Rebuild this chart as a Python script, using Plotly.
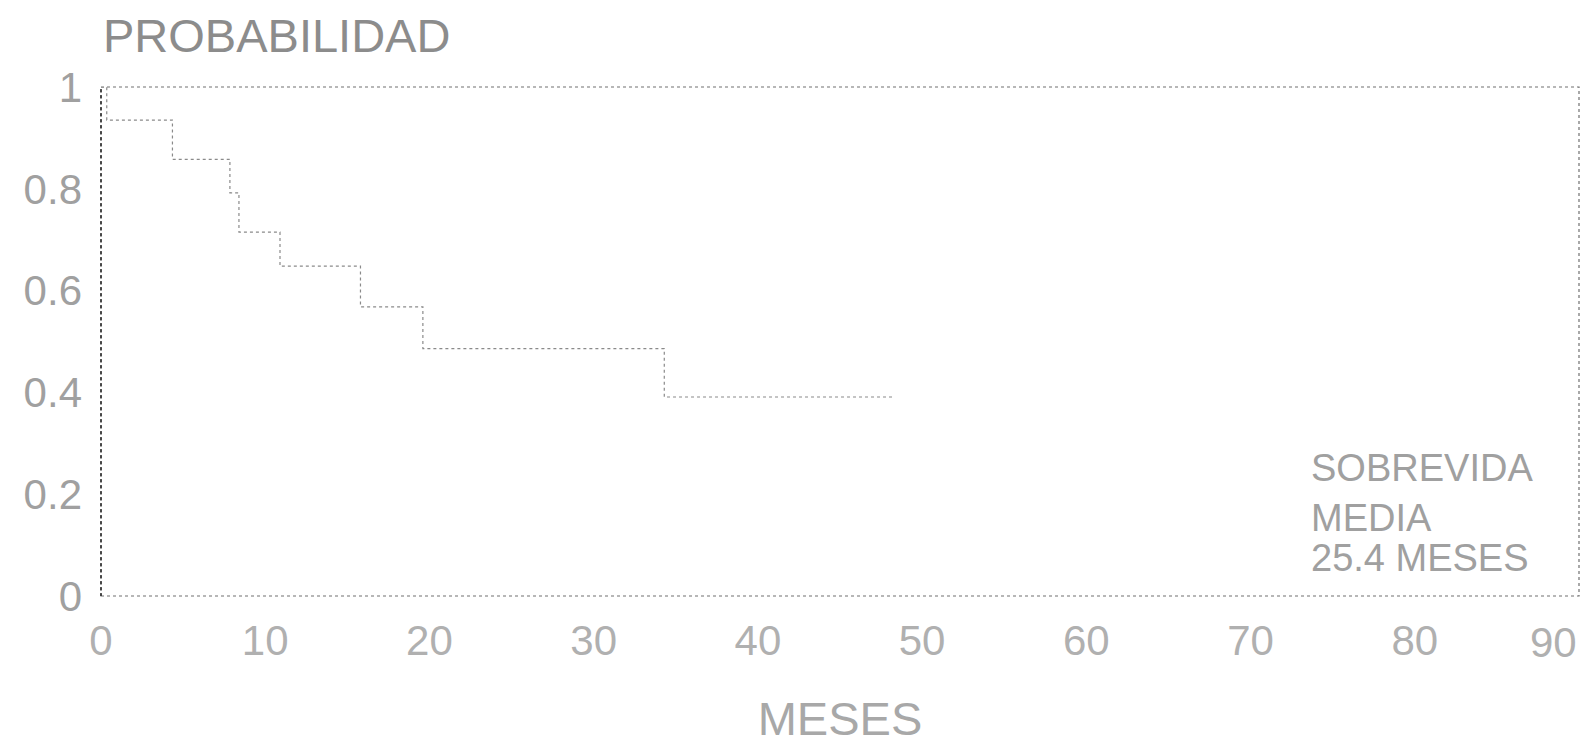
import plotly.graph_objects as go

# Kaplan-Meier survival estimate (months vs. probability)
meses = [0, 0.35, 4.35, 7.85, 8.4, 10.9, 15.8, 19.6, 34.3, 48.2]
probabilidad = [1.0, 0.935, 0.858, 0.792, 0.715, 0.648, 0.568, 0.486, 0.391, 0.391]

x_ticks = [0, 10, 20, 30, 40, 50, 60, 70, 80, 90]
x_tick_text = ["0", "10", "20", "30", "40", "50", "60", "70", "80", "90"]
y_ticks = [0, 0.2, 0.4, 0.6, 0.8, 1.0]
y_tick_text = ["0", "0.2", "0.4", "0.6", "0.8", "1"]

nota = ["SOBREVIDA", "MEDIA", "25.4 MESES"]

FONT = "Liberation Sans, Arial, sans-serif"
TICK_SIZE = 42
TICK_COLOR = "#b0b0b0"

fig = go.Figure()
fig.add_trace(go.Scatter(
    x=meses, y=probabilidad, mode="lines", line_shape="hv",
    line=dict(color="#8a8a8a", width=1.2, dash="dot"),
    showlegend=False, hoverinfo="skip",
))

# the last x label would spill past the page edge, so it is drawn
# right-aligned to the frame instead of centred on its tick
fig.update_layout(
    width=1589, height=745,
    margin=dict(l=101, r=10, t=87, b=149),
    paper_bgcolor="white", plot_bgcolor="white",
    font=dict(family=FONT, color="#a8a8a8"),
    xaxis=dict(
        range=[0, 90], tickvals=x_ticks[:-1], ticktext=x_tick_text[:-1],
        showgrid=False, zeroline=False, automargin=False,
        showline=False, ticks="", ticklabelstandoff=16,
        tickfont=dict(size=TICK_SIZE, color=TICK_COLOR),
        title=dict(text="MESES", font=dict(size=47, color="#a8a8a8"), standoff=52),
    ),
    yaxis=dict(
        range=[0, 1], tickvals=y_ticks, ticktext=y_tick_text, automargin=False,
        showgrid=False, zeroline=False, showline=False, ticks="",
        ticklabelstandoff=18, tickfont=dict(size=TICK_SIZE, color="#a0a0a0"),
    ),
    shapes=[
        dict(type="rect", xref="paper", yref="paper", x0=0, y0=0, x1=1, y1=1,
             line=dict(color="#707070", width=1.2, dash="dot")),
        dict(type="line", xref="paper", yref="paper", x0=0, y0=0, x1=0, y1=1,
             line=dict(color="#303030", width=1.6, dash="dot")),
    ],
)

fig.add_annotation(
    text=x_tick_text[-1], xref="paper", yref="paper", x=1.0, y=-0.092,
    xanchor="right", yanchor="middle", showarrow=False,
    font=dict(size=TICK_SIZE, color=TICK_COLOR, family=FONT),
)

fig.add_annotation(
    text="PROBABILIDAD", xref="paper", yref="paper", x=0, y=1.101,
    xanchor="left", yanchor="middle", showarrow=False,
    font=dict(size=47, color="#8c8c8c", family=FONT),
)

for texto, ypos in zip(nota, [0.2515, 0.153, 0.0747]):
    fig.add_annotation(
        text=texto, xref="paper", yref="paper", x=0.818, y=ypos,
        xanchor="left", yanchor="middle", showarrow=False, borderpad=0,
        font=dict(size=38, color="#a0a0a0", family=FONT),
    )

fig.write_html("out.html")
